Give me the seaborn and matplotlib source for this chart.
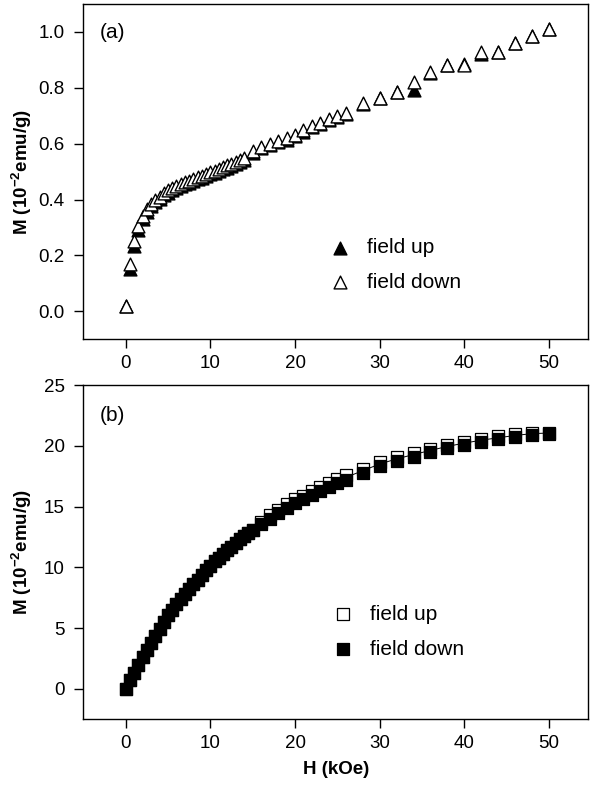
import matplotlib
matplotlib.use("Agg")
import matplotlib.pyplot as plt
import seaborn as sns
import pandas as pd

# ---------------- data: panel (a) ----------------
H_a = [0, 0.5, 1, 1.5, 2, 2.5, 3, 3.5, 4, 4.5, 5, 5.5, 6, 6.5, 7, 7.5, 8, 8.5, 9, 9.5,
       10, 10.5, 11, 11.5, 12, 12.5, 13, 13.5, 14, 15, 16, 17, 18, 19, 20, 21, 22, 23,
       24, 25, 26, 28, 30, 32, 34, 36, 38, 40, 42, 44, 46, 48, 50]
Ma_down = [0.02, 0.17, 0.25, 0.305, 0.34, 0.367, 0.385, 0.398, 0.41, 0.423, 0.433, 0.441,
           0.448, 0.455, 0.462, 0.468, 0.474, 0.480, 0.486, 0.492, 0.498, 0.504, 0.510,
           0.516, 0.522, 0.528, 0.535, 0.542, 0.550, 0.575, 0.590, 0.600, 0.610, 0.620,
           0.632, 0.648, 0.664, 0.675, 0.690, 0.700, 0.710, 0.745, 0.765, 0.786, 0.822,
           0.855, 0.883, 0.883, 0.930, 0.930, 0.962, 0.984, 1.012]
Ma_up = [0.02, 0.150, 0.235, 0.290, 0.329, 0.357, 0.376, 0.390, 0.402, 0.415, 0.425, 0.433,
         0.440, 0.447, 0.454, 0.460, 0.466, 0.472, 0.478, 0.484, 0.490, 0.496, 0.502,
         0.508, 0.514, 0.520, 0.527, 0.534, 0.542, 0.568, 0.584, 0.595, 0.605, 0.615,
         0.627, 0.643, 0.659, 0.670, 0.685, 0.696, 0.706, 0.741, 0.762, 0.784, 0.794,
         0.853, 0.881, 0.886, 0.922, 0.928, 0.959, 0.987, 1.010]

# ---------------- data: panel (b) ----------------
H_b = [0, 0.5, 1, 1.5, 2, 2.5, 3, 3.5, 4, 4.5, 5, 5.5, 6, 6.5, 7, 7.5, 8, 8.5, 9, 9.5,
       10, 10.5, 11, 11.5, 12, 12.5, 13, 13.5, 14, 14.5, 15, 16, 17, 18, 19, 20, 21, 22,
       23, 24, 25, 26, 28, 30, 32, 34, 36, 38, 40, 42, 44, 46, 48, 50]
Mb_down = [0.0, 0.7, 1.35, 2.0, 2.6, 3.2, 3.8, 4.35, 4.9, 5.5, 6.05, 6.5, 6.95, 7.4, 7.8,
           8.2, 8.6, 9.0, 9.4, 9.8, 10.15, 10.5, 10.8, 11.1, 11.4, 11.7, 12.0, 12.3, 12.6,
           12.85, 13.1, 13.6, 14.0, 14.45, 14.9, 15.3, 15.6, 15.95, 16.3, 16.6, 16.9, 17.2,
           17.75, 18.3, 18.75, 19.1, 19.45, 19.8, 20.05, 20.35, 20.55, 20.75, 20.9, 20.95]
Mb_up = [0.0, 0.7, 1.35, 2.0, 2.6, 3.2, 3.8, 4.35, 4.9, 5.5, 6.05, 6.5, 6.95, 7.4, 7.8,
         8.2, 8.6, 9.0, 9.4, 9.8, 10.15, 10.5, 10.8, 11.1, 11.4, 11.7, 12.0, 12.3, 12.6,
         12.85, 13.1, 13.75, 14.3, 14.75, 15.2, 15.65, 15.9, 16.3, 16.65, 16.95, 17.3, 17.6,
         18.1, 18.65, 19.05, 19.4, 19.75, 20.08, 20.33, 20.58, 20.78, 20.96, 21.08, 21.05]
H_fit = [0, 2, 4, 6, 8, 10, 12, 14, 16, 18, 20, 22, 24, 26, 28, 30, 32, 34, 36, 38, 40,
         42, 44, 46, 48, 50]
M_fit = [0.0, 2.7, 5.0, 7.0, 8.7, 10.2, 11.5, 12.7, 13.75, 14.7, 15.55, 16.2, 16.8, 17.4,
         17.95, 18.5, 18.92, 19.28, 19.62, 19.95, 20.22, 20.46, 20.66, 20.85, 21.0, 21.05]

xticks = [0, 10, 20, 30, 40, 50]
yticks_a = [0.0, 0.2, 0.4, 0.6, 0.8, 1.0]
yticks_a_labels = ["0.0", "0.2", "0.4", "0.6", "0.8", "1.0"]
yticks_b = [0, 5, 10, 15, 20, 25]

df_a = pd.DataFrame({"H": H_a, "up": Ma_up, "down": Ma_down})
df_b = pd.DataFrame({"H": H_b, "up": Mb_up, "down": Mb_down})
df_fit = pd.DataFrame({"H": H_fit, "M": M_fit})

sns.set_style("ticks")
plt.rcParams["font.family"] = ["Liberation Sans", "DejaVu Sans"]
plt.rcParams["mathtext.fontset"] = "custom"
plt.rcParams["mathtext.rm"] = "Liberation Sans"
plt.rcParams["mathtext.bf"] = "Liberation Sans:bold"
plt.rcParams["axes.linewidth"] = 1.0
plt.rcParams["xtick.direction"] = "out"
plt.rcParams["ytick.direction"] = "out"
plt.rcParams["text.color"] = "black"
plt.rcParams["axes.labelcolor"] = "black"
plt.rcParams["xtick.color"] = "black"
plt.rcParams["ytick.color"] = "black"
plt.rcParams["axes.edgecolor"] = "black"

fig = plt.figure(figsize=(5.9, 7.87), dpi=100)
ax1 = fig.add_axes([0.1412, 0.5689, 0.8554, 0.4260])
ax2 = fig.add_axes([0.1412, 0.0860, 0.8554, 0.4248])

tri_s = 85
sq_s = 82

# panel (a)
sns.scatterplot(data=df_a, x="H", y="up", marker="^", s=tri_s, color="black",
                edgecolor="black", linewidth=1.0, label="field up", ax=ax1, zorder=3)
sns.scatterplot(data=df_a, x="H", y="down", marker="^", s=tri_s, color="white",
                edgecolor="black", linewidth=1.0, label="field down", ax=ax1, zorder=4)

# panel (b)
sns.scatterplot(data=df_b, x="H", y="up", marker="s", s=sq_s, color="white",
                edgecolor="black", linewidth=0.9, label="field up", ax=ax2, zorder=3)
sns.scatterplot(data=df_b, x="H", y="down", marker="s", s=sq_s, color="black",
                edgecolor="black", linewidth=0.9, label="field down", ax=ax2, zorder=4)
sns.lineplot(data=df_fit, x="H", y="M", color="black", linewidth=0.7, ax=ax2,
             zorder=5, legend=False)

for ax in (ax1, ax2):
    ax.set_xlim(-5, 54.6)
    ax.set_xticks(xticks)
    ax.tick_params(axis="both", which="major", length=6.5, width=1.0, labelsize=13.5,
                   colors="black")
    ax.tick_params(axis="x", pad=5)
    ax.tick_params(axis="y", pad=7)
    for sp in ax.spines.values():
        sp.set_visible(True)
        sp.set_linewidth(1.0)
        sp.set_color("black")
    ax.set_ylabel(r"M (10$^{\mathbf{-2}}$emu/g)", fontsize=13.5, fontweight="bold",
                  color="black")
    ax.set_xlabel("")

ax1.set_ylim(-0.1, 1.1)
ax1.set_yticks(yticks_a)
ax1.set_yticklabels(yticks_a_labels)
ax2.set_ylim(-2.5, 25)
ax2.set_yticks(yticks_b)
ax2.set_xlabel("H (kOe)", fontsize=13.5, fontweight="bold", labelpad=6, color="black")

ax1.yaxis.set_label_coords(-0.098, 0.5)
ax2.yaxis.set_label_coords(-0.098, 0.5)

ax1.text(0.033, 0.9165, "(a)", transform=ax1.transAxes, fontsize=15, va="center",
         ha="left", color="black")
ax2.text(0.033, 0.910, "(b)", transform=ax2.transAxes, fontsize=15, va="center",
         ha="left", color="black")

leg_kw = dict(frameon=False, fontsize=15, handlelength=1.0, handletextpad=0.8,
              borderpad=0, borderaxespad=0, labelspacing=0.75, loc="center left")
ax1.legend(bbox_to_anchor=(0.488, 0.2216), **leg_kw)
ax2.legend(bbox_to_anchor=(0.494, 0.262), **leg_kw)

fig.savefig("out.png", dpi=100)
